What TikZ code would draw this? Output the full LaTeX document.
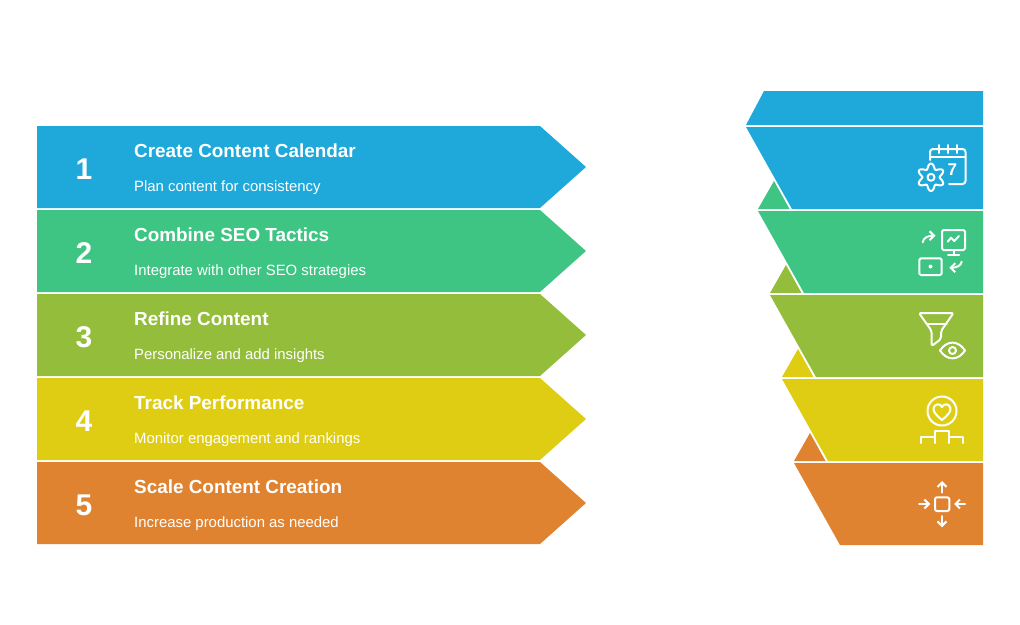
\documentclass[tikz,border=0pt]{standalone}
\usepackage{fontspec}
\setmainfont{Liberation Sans}
\usetikzlibrary{arrows.meta}
\definecolor{rowblue}{HTML}{1EA9DA}
\definecolor{rowgreen}{HTML}{3EC584}
\definecolor{rowolive}{HTML}{93BD3A}
\definecolor{rowyellow}{HTML}{DFCD14}
\definecolor{roworange}{HTML}{DF8331}
\tikzset{
  numtext/.style={anchor=base, text=white, inner sep=0pt, font=\fontsize{30}{30}\selectfont\bfseries},
  titletext/.style={anchor=base west, text=white, inner sep=0pt, font=\fontsize{18.9}{20}\selectfont\bfseries},
  desctext/.style={anchor=base west, text=white, inner sep=0pt, font=\fontsize{14.9}{15}\selectfont},
  icon/.style={draw=white, line width=2pt, line join=round, line cap=round},
  iconarrow/.style={icon, -{Straight Barb[length=4.5pt, width=9pt, line width=2pt]}}
}
\begin{document}
\begin{tikzpicture}[x=1pt, y=-1pt]
    \useasboundingbox (0, 0) rectangle (1020, 624);
    % left arrows
    \fill[rowblue] (37, 126) -- (540, 126) -- (586, 167) -- (540, 208) -- (37, 208) -- cycle;
    \fill[rowgreen] (37, 210) -- (540, 210) -- (586, 251) -- (540, 292) -- (37, 292) -- cycle;
    \fill[rowolive] (37, 294) -- (540, 294) -- (586, 335) -- (540, 376) -- (37, 376) -- cycle;
    \fill[rowyellow] (37, 378) -- (540, 378) -- (586, 419) -- (540, 460) -- (37, 460) -- cycle;
    \fill[roworange] (37, 462) -- (540, 462) -- (586, 503) -- (540, 544) -- (37, 544) -- cycle;
    % right bands
    \fill[rowblue] (764, 91) -- (983, 91) -- (983, 125) -- (746, 125) -- cycle;
    \fill[rowblue] (746, 127) -- (983, 127) -- (983, 209) -- (792, 209) -- cycle;
    \fill[rowgreen] (758, 211) -- (983, 211) -- (983, 293) -- (804, 293) -- cycle;
    \fill[rowolive] (770, 295) -- (983, 295) -- (983, 377) -- (816, 377) -- cycle;
    \fill[rowyellow] (782, 379) -- (983, 379) -- (983, 461) -- (828, 461) -- cycle;
    \fill[roworange] (794, 463) -- (983, 463) -- (983, 545) -- (840, 545) -- cycle;
    % small triangles
    \fill[rowgreen] (774, 181) -- (789.5, 209) -- (758, 209) -- cycle;
    \fill[rowolive] (786, 265) -- (801.5, 293) -- (770, 293) -- cycle;
    \fill[rowyellow] (798, 349) -- (813.5, 377) -- (782, 377) -- cycle;
    \fill[roworange] (810, 433) -- (825.5, 461) -- (794, 461) -- cycle;
    % texts
    \node[numtext] (num1) at (84, 179) {1};
    \node[titletext] (title1) at (134, 157) {Create Content Calendar};
    \node[desctext] (desc1) at (134, 191) {Plan content for consistency};
    \node[numtext] (num2) at (84, 263) {2};
    \node[titletext] (title2) at (134, 241) {Combine SEO Tactics};
    \node[desctext] (desc2) at (134, 275) {Integrate with other SEO strategies};
    \node[numtext] (num3) at (84, 347) {3};
    \node[titletext] (title3) at (134, 325) {Refine Content};
    \node[desctext] (desc3) at (134, 359) {Personalize and add insights};
    \node[numtext] (num4) at (84, 431) {4};
    \node[titletext] (title4) at (134, 409) {Track Performance};
    \node[desctext] (desc4) at (134, 443) {Monitor engagement and rankings};
    \node[numtext] (num5) at (84, 515) {5};
    \node[titletext] (title5) at (134, 493) {Scale Content Creation};
    \node[desctext] (desc5) at (134, 527) {Increase production as needed};
    % calendar and gear
    \draw[icon, rounded corners=3pt] (930, 160) -- (930, 149) -- (965.5, 149) -- (965.5, 184) -- (949, 184);
    \draw[icon] (930, 157) -- (965.5, 157);
    \draw[icon] (939.3, 145) -- (939.3, 153);
    \draw[icon] (948, 145) -- (948, 153);
    \draw[icon] (956.7, 145) -- (956.7, 153);
    \node[text=white, inner sep=0pt, font=\fontsize{17}{17}\selectfont\bfseries] (seven) at (952.3, 170) {7};
    \draw[icon] plot[smooth cycle, samples=72, domain=0:355, variable=\t] ({931+(11.2+2.6*cos(6*(\t-90)))*cos(\t)}, {177.3-(11.2+2.6*cos(6*(\t-90)))*sin(\t)});
    \draw[icon] (931, 177.3) circle[radius=3.5pt];
    % monitor and tablet
    \draw[icon, rounded corners=1.5pt] (942, 230) rectangle (965, 250);
    \draw[icon] (953.5, 250) -- (953.5, 254.5);
    \draw[icon] (948, 254.5) -- (959, 254.5);
    \draw[icon] (947.7, 241.7) -- (951, 237.7) -- (954.3, 241) -- (959, 236);
    \draw[iconarrow] (922.7, 242.3) .. controls (923.5, 237.5) and (928, 235.7) .. (935.5, 235.7);
    \draw[icon, rounded corners=1.5pt] (919.3, 258.3) rectangle (941.7, 275);
    \fill[white] (930.5, 266.5) circle[radius=2pt];
    \draw[iconarrow] (961.7, 261.7) .. controls (961, 266) and (956, 267.7) .. (949.3, 267.7);
    % funnel and eye
    \draw[icon, rounded corners=2pt] (919, 313) -- (953.5, 313) -- (941, 331) -- (941, 339) -- (931.7, 346) -- (931.7, 331) -- cycle;
    \draw[icon] (926.5, 324.3) -- (946.5, 324.3);
    \draw[icon] (940, 350.5) .. controls (947, 340) and (958, 340) .. (965, 350.5) .. controls (958, 361) and (947, 361) .. (940, 350.5) -- cycle;
    \draw[icon] (952.5, 350.5) circle[radius=3.5pt];
    % heart and podium
    \draw[icon] (942, 411) circle[radius=14.5pt];
    \draw[icon] (942, 420) .. controls (936, 415) and (933.3, 412) .. (933.5, 408.5) .. controls (934, 404) and (940, 402.5) .. (942, 407) .. controls (944, 402.5) and (950, 404) .. (950.5, 408.5) .. controls (950.7, 412) and (948, 415) .. (942, 420) -- cycle;
    \draw[icon] (920.7, 443) -- (920.7, 436.7) -- (934.7, 436.7);
    \draw[icon] (934.7, 443) -- (934.7, 430.7) -- (949, 430.7) -- (949, 443);
    \draw[icon] (949, 436.7) -- (963.3, 436.7) -- (963.3, 443);
    % square and arrows
    \draw[icon, rounded corners=2pt] (935, 497.3) rectangle (949.3, 511);
    \draw[iconarrow] (942, 492.7) -- (942, 481);
    \draw[iconarrow] (942, 516) -- (942, 527.3);
    \draw[iconarrow] (919, 504) -- (930.3, 504);
    \draw[iconarrow] (965, 504) -- (954, 504);
\end{tikzpicture}
\end{document}
